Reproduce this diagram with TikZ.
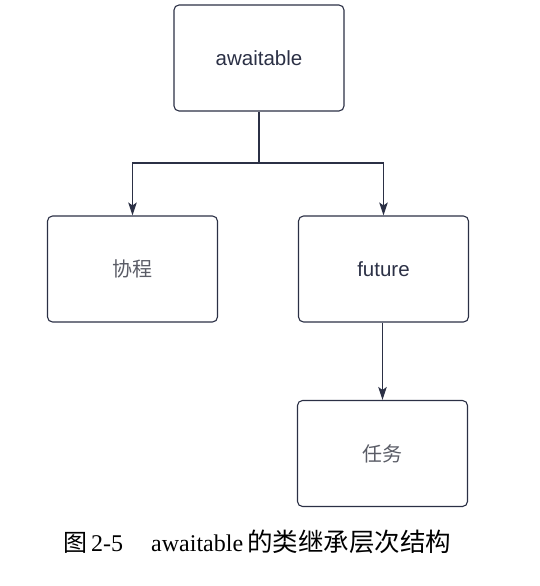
\documentclass[tikz,border=0pt]{standalone}
\usepackage{fontspec}
\setmainfont{Liberation Serif}
\newfontfamily\cjk{Noto Sans CJK SC}
\newfontfamily\boxsans{Liberation Sans}
\usetikzlibrary{arrows.meta}
\definecolor{ink}{HTML}{2B3045}
\definecolor{graytext}{HTML}{5A5C66}
\begin{document}
\begin{tikzpicture}[x=1pt,y=-1pt,
  cls/.style={draw=ink, line width=1.1pt, rounded corners=5pt, minimum width=170pt, minimum height=106pt, inner sep=0pt},
  latinlbl/.style={font=\boxsans\fontsize{20.5}{24}\selectfont, text=ink},
  cjklbl/.style={font=\cjk\fontsize{20}{24}\selectfont, text=graytext},
  conn/.style={draw=ink, line width=1.2pt},
  arr/.style={conn, -{Stealth[length=13pt,width=8.5pt,inset=3pt]}},
  captxt/.style={anchor=base west, inner sep=0pt, font=\fontsize{24}{28}\selectfont}
]
\useasboundingbox (0,0) rectangle (540,586);
\node[cls, latinlbl] (aw) at (259,58) {awaitable};
\node[cls, cjklbl] (xc) at (132.5,269) {协程};
\node[cls, latinlbl] (fu) at (383.5,269) {future};
\node[cls, cjklbl] (rw) at (382.5,453.5) {任务};
\coordinate (j) at (259,163);
\draw[conn] (aw.south) -- (j);
\draw[arr] (j) -| (xc.north);
\draw[arr] (j) -| (fu.north);
\draw[arr] (fu.south -| rw.north) -- (rw.north);
\node[captxt] (c1) at (63,551) {\cjk 图};
\node[captxt] (c2) at (91,551) {2-5};
\node[captxt] (c3) at (151,551) {awaitable};
\node[captxt, font=\cjk\fontsize{25.5}{28}\selectfont] (c4) at (247,551) {的类继承层次结构};
\end{tikzpicture}
\end{document}
